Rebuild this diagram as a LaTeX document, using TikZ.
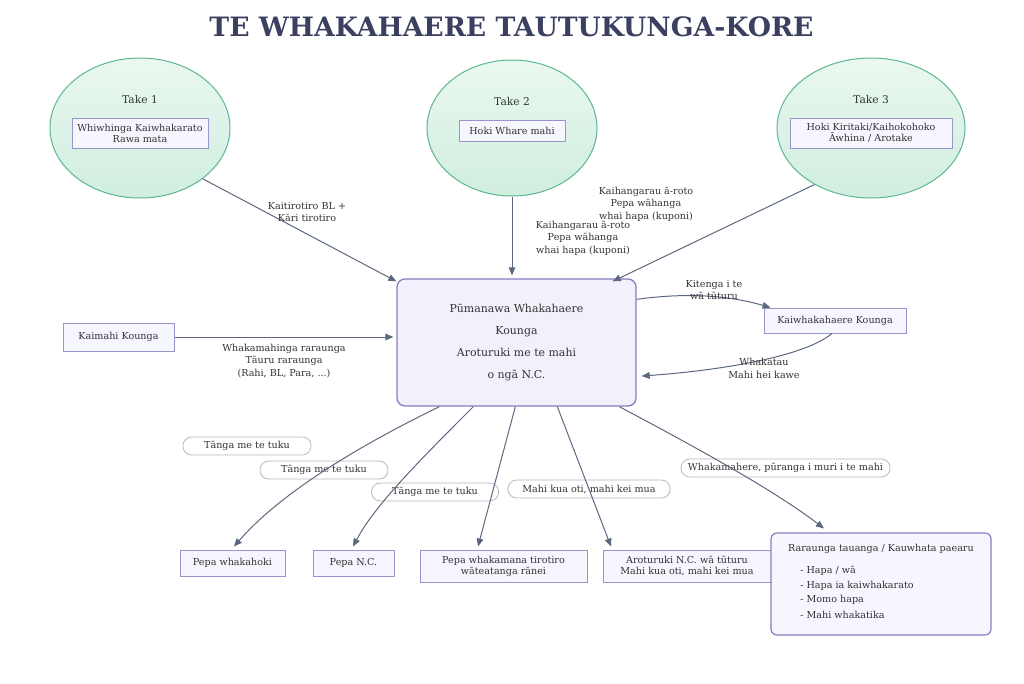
\documentclass[tikz,border=0pt]{standalone}
\usepackage{fontspec}
\setmainfont{DejaVu Serif}
\usetikzlibrary{arrows.meta,calc,shapes.geometric}
\definecolor{textc}{RGB}{51,51,51}
\definecolor{titlec}{RGB}{59,64,96}
\definecolor{linec}{RGB}{92,103,128}
\definecolor{ellc}{RGB}{92,184,142}
\definecolor{ellt}{RGB}{234,248,240}
\definecolor{ellb}{RGB}{208,238,223}
\definecolor{boxf}{RGB}{246,246,255}
\definecolor{boxc}{RGB}{154,148,204}
\definecolor{cenf}{RGB}{242,240,250}
\definecolor{cenc}{RGB}{138,124,192}
\definecolor{pillc}{RGB}{184,184,192}
\begin{document}
\begin{tikzpicture}[x=0.75pt,y=-0.75pt,
  txt/.style={text=textc,font=\fontsize{7.2}{8.25}\selectfont,align=center,inner sep=0pt},
  lbl/.style={txt,font=\fontsize{7.2}{9.4}\selectfont},
  ell/.style={ellipse,draw=ellc,line width=0.75pt,top color=ellt,bottom color=ellb,inner sep=0pt},
  sbox/.style={txt,draw=boxc,fill=boxf,line width=0.75pt},
  conn/.style={draw=linec,line width=0.75pt,-{Triangle[length=6pt,width=5pt]}},
  pill/.style={txt,draw=pillc,fill=white,rounded corners=6.5pt,line width=0.6pt,minimum height=13.5pt}]
\useasboundingbox (0,0) rectangle (1024,683);
\node[text=titlec,font=\fontsize{20}{22}\selectfont\bfseries] (title) at (511.5,27) {TE WHAKAHAERE TAUTUKUNGA-KORE};
% ellipses
\node[ell,minimum width=135pt,minimum height=105pt] (e1) at (140,128) {};
\node[ell,minimum width=127.5pt,minimum height=102pt] (e2) at (512,128) {};
\node[ell,minimum width=141pt,minimum height=105pt] (e3) at (871,128) {};
\node[txt,font=\fontsize{8}{9}\selectfont] (t1) at (140,100) {Take 1};
\node[txt,font=\fontsize{8}{9}\selectfont] (t2) at (512,102) {Take 2};
\node[txt,font=\fontsize{8}{9}\selectfont] (t3) at (871,100) {Take 3};
\node[sbox,minimum width=102pt,minimum height=22.5pt] (b1) at (140,133) {Whiwhinga Kaiwhakarato\\Rawa mata};
\node[sbox,minimum width=79.5pt,minimum height=15.75pt] (b2) at (512,130.5) {Hoki Whare mahi};
\node[sbox,minimum width=121.5pt,minimum height=22.5pt] (b3) at (871,133) {Hoki Kiritaki/Kaihokohoko\\Āwhina / Arotake};
% central
\node[txt,draw=cenc,fill=cenf,line width=1pt,rounded corners=6pt,minimum width=179.25pt,minimum height=95.25pt,font=\fontsize{8.2}{16.5}\selectfont] (cen) at (516.5,342.5) {Pūmanawa Whakahaere\\Kounga\\Aroturuki me te mahi\\o ngā N.C.};
% side boxes
\node[sbox,minimum width=83.25pt,minimum height=21pt] (km) at (118.5,337) {Kaimahi Kounga};
\node[sbox,minimum width=106.5pt,minimum height=18.75pt] (kw) at (835,320.5) {Kaiwhakahaere Kounga};
% bottom boxes
\node[sbox,minimum width=78.75pt,minimum height=19.5pt] (pw) at (232.5,563) {Pepa whakahoki};
\node[sbox,minimum width=60.75pt,minimum height=19.5pt] (pn) at (353.5,563) {Pepa N.C.};
\node[sbox,minimum width=125.25pt,minimum height=24pt] (pm) at (503.5,566) {Pepa whakamana tirotiro\\wāteatanga rānei};
\node[sbox,minimum width=126pt,minimum height=24pt] (ar) at (687,566) {Aroturuki N.C. wā tūturu\\Mahi kua oti, mahi kei mua};
\node[draw=cenc,fill=boxf,line width=0.9pt,rounded corners=4.5pt,minimum width=165pt,minimum height=76.5pt] (rr) at (881,584) {};
\node[txt] (rrt) at (881,549) {Raraunga tauanga / Kauwhata paearu};
\node[txt,anchor=west] (rr1) at (800,571) {- Hapa / wā};
\node[txt,anchor=west] (rr2) at (800,586) {- Hapa ia kaiwhakarato};
\node[txt,anchor=west] (rr3) at (800,600) {- Momo hapa};
\node[txt,anchor=west] (rr4) at (800,615) {- Mahi whakatika};
% pills
\node[pill,minimum width=96pt] (p1) at (247,446) {Tānga me te tuku};
\node[pill,minimum width=96pt] (p2) at (324,470) {Tānga me te tuku};
\node[pill,minimum width=95.25pt] (p3) at (435,492) {Tānga me te tuku};
\node[pill,minimum width=121.5pt] (p4) at (589,489) {Mahi kua oti, mahi kei mua};
\node[pill,minimum width=156.75pt] (p5) at (785.5,468) {Whakamahere, pūranga i muri i te mahi};
% connectors
\draw[conn] (e1.-39) -- ($(cen.north west)+(0,3)$);
\draw[conn] (e2.south) -- ($(e2.south |- cen.north)+(0,-3)$);
\draw[conn] (e3.225) -- ($(cen.north east)+(-24,3)$);
\draw[conn] (km.east) -- ($(km.east -| cen.west)+(-3,0)$);
\draw[conn] ($(cen.north east)+(0,21)$) .. controls (690,292) and (730,296) .. ($(kw.north west)+(7,0)$);
\draw[conn] ($(kw.south)+(-3,0)$) .. controls (800,360) and (700,372) .. ($(cen.east)+(5,33.5)$);
\draw[conn] ($(cen.south west)+(43,0)$) .. controls (330,460) and (270,505) .. ($(pw.north)+(1.5,-3)$);
\draw[conn] ($(cen.south west)+(77,0)$) .. controls (420,460) and (375,505) .. ($(pn.north)+(-0.5,-3)$);
\draw[conn] ($(cen.south west)+(119,0)$) -- ($(pm.north)+(-25.5,-3)$);
\draw[conn] ($(cen.south west)+(161,0)$) -- ($(ar.north)+(-76,-3)$);
\draw[conn] ($(cen.south west)+(223,0)$) .. controls (720,460) and (780,495) .. ($(rr.north)+(-57,-4)$);
% labels
\node[lbl] (l1) at (307,212) {Kaitirotiro BL +\\Kāri tirotiro};
\node[lbl] (l2) at (583,238) {Kaihangarau ā-roto\\Pepa wāhanga\\whai hapa (kuponi)};
\node[lbl] (l3) at (646,204) {Kaihangarau ā-roto\\Pepa wāhanga\\whai hapa (kuponi)};
\node[lbl] (l4) at (284,361) {Whakamahinga raraunga\\Tāuru raraunga\\(Rahi, BL, Para, ...)};
\node[lbl] (l5) at (714,290) {Kitenga i te\\wā tūturu};
\node[lbl] (l6) at (764,368.5) {Whakatau\\Mahi hei kawe};
\end{tikzpicture}
\end{document}
